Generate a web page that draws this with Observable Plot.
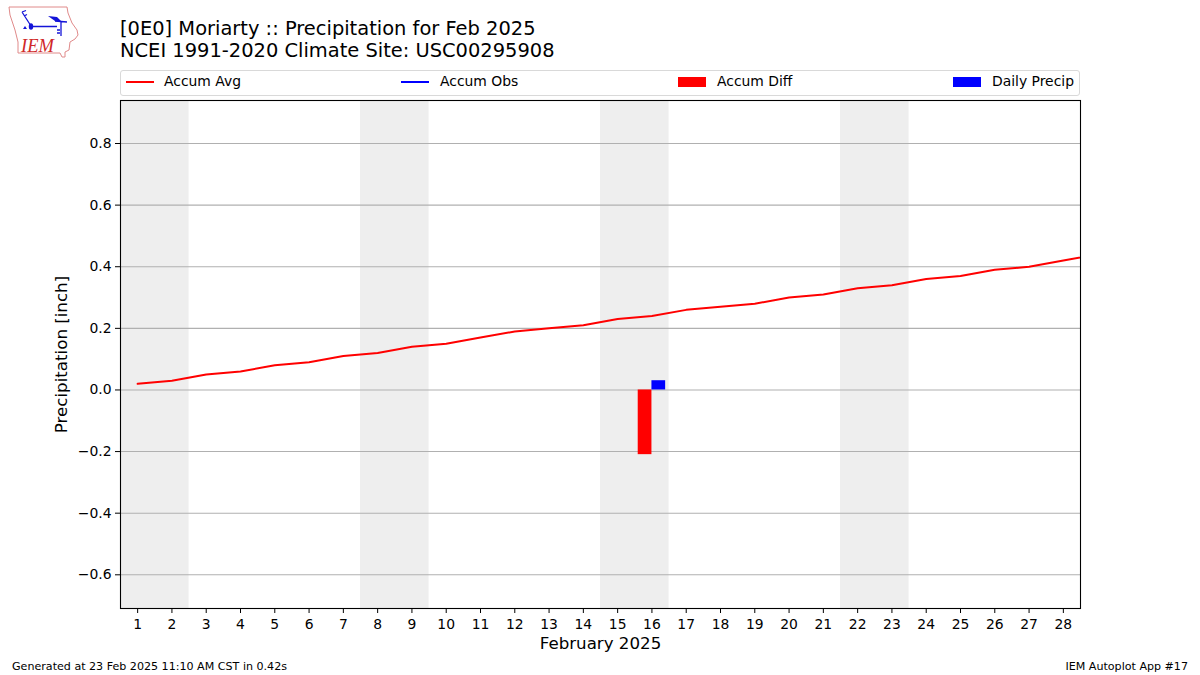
<!DOCTYPE html>
<html>
<head>
<meta charset="utf-8">
<script src="https://cdn.jsdelivr.net/npm/d3@7"></script>
<script src="https://cdn.jsdelivr.net/npm/@observablehq/plot@0.6"></script>
<style>
html,body{margin:0;padding:0;background:#fff;}
body{width:1200px;height:675px;position:relative;overflow:hidden;font-family:"DejaVu Sans",sans-serif;color:#000;}
#title{position:absolute;left:120px;top:18px;font-size:19.44px;line-height:22px;white-space:nowrap;}
#legend{position:absolute;left:120px;top:70px;width:958px;height:24px;border:1px solid #d9d9d9;border-radius:3px;font-size:13.9px;}
#legend .it{position:absolute;top:0;height:24px;line-height:21px;white-space:nowrap;}
#legend .sw{position:absolute;}
#chart{position:absolute;left:0;top:96px;}
#chart svg{display:block;}
#foot-l{position:absolute;left:12px;top:660px;font-size:11.1px;white-space:nowrap;}
#foot-r{position:absolute;right:12px;top:660px;font-size:11.1px;white-space:nowrap;}
#logo{position:absolute;left:5px;top:2px;}
</style>
</head>
<body>
<svg id="logo" width="80" height="60" viewBox="5 2 80 60">
  <path d="M9 7 L67 7 L68 13 L72 23 L77 30 L78 35 L75 39 L70 42 L69 50 L65 52 L65 57 L62 57 L60 53 L18 53 L18 42 L15 30 L10 15 Z" fill="none" stroke="#e08a8a" stroke-width="1"/>
  <path d="M31 26.5 H57 M55 21 L67 22 M61 22 V36 M22 12 L31 26 M22 12 L26 10.5 M24 16 L27 14.5 M57 30 H60 M57 33 H60" fill="none" stroke="#1414d8" stroke-width="1.3"/>
  <ellipse cx="31" cy="26.5" rx="2.2" ry="3.2" fill="#1414d8"/>
  <path d="M48 16 L57 17 L62 22 L55 21 Z" fill="#1414d8"/>
  <path d="M25 26 L27 29 L23 29 Z" fill="#1414d8"/>
  <text x="21" y="52" font-family="Liberation Serif" font-style="italic" font-size="18.5" fill="#d02828">IEM</text>
</svg>
<div id="title">[0E0] Moriarty :: Precipitation for Feb 2025<br>NCEI 1991-2020 Climate Site: USC00295908</div>
<div id="legend"></div>
<div id="chart"></div>
<div id="foot-l">Generated at 23 Feb 2025 11:10 AM CST in 0.42s</div>
<div id="foot-r">IEM Autoplot App #17</div>
<script>
const days = [1,2,3,4,5,6,7,8,9,10,11,12,13,14,15,16,17,18,19,20,21,22,23,24,25,26,27,28,29];
const accumAvg = [0.02,0.03,0.05,0.06,0.08,0.09,0.11,0.12,0.14,0.15,0.17,0.19,0.20,0.21,0.23,0.24,0.26,0.27,0.28,0.30,0.31,0.33,0.34,0.36,0.37,0.39,0.40,0.42,0.44];
const weekendStart = [0.5,7.5,14.5,21.5];
const weekendEnd = [2.5,9.5,16.5,23.5];
const diffDays = [16];
const accumDiff = [-0.21];
const precipDays = [16];
const dailyPrecip = [0.03];
const xTicks = days.slice(0,28);
const yTicks = [-0.6,-0.4,-0.2,0,0.2,0.4,0.6,0.8];
const legendItems = [
  {label:"Accum Avg", color:"#ff0000", kind:"line", sx:5, tx:43},
  {label:"Accum Obs", color:"#0000ff", kind:"line", sx:280, tx:319},
  {label:"Accum Diff", color:"#ff0000", kind:"bar", sx:557, tx:596},
  {label:"Daily Precip", color:"#0000ff", kind:"bar", sx:832, tx:871}
];

const barWidth = 0.4;
const line = days.map((d,i)=>({d, v:accumAvg[i]}));
const bands = weekendStart.map((s,i)=>({s, e:weekendEnd[i]}));
const diffs = diffDays.map((d,i)=>({x1:d-barWidth, x2:d, v:accumDiff[i]}));
const precs = precipDays.map((d,i)=>({x1:d, x2:d+barWidth, v:dailyPrecip[i]}));

const plot = Plot.plot({
  width:1200, height:560,
  marginLeft:120, marginRight:120, marginTop:4, marginBottom:48,
  style:{fontFamily:'"DejaVu Sans",sans-serif', fontSize:"13.9px", background:"transparent", color:"#000"},
  x:{domain:[0.5,28.5]},
  y:{domain:[-0.7094,0.9396]},
  marks:[
    Plot.rectY(bands,{x1:"s",x2:"e",y1:-0.7094,y2:0.9396,fill:"#eeeeee"}),
    Plot.ruleY(yTicks,{stroke:"#b0b0b0",strokeWidth:1.1}),
    Plot.rectY(diffs,{x1:"x1",x2:"x2",y1:0,y2:"v",fill:"#ff0000"}),
    Plot.rectY(precs,{x1:"x1",x2:"x2",y1:0,y2:"v",fill:"#0000ff"}),
    Plot.line(line,{x:"d",y:"v",stroke:"#ff0000",strokeWidth:2,clip:true}),
    Plot.frame({stroke:"#000",strokeWidth:1.1}),
    Plot.axisX({ticks:xTicks,tickFormat:d=>String(d),tickSize:5,tickPadding:5.5,label:"February 2025",labelAnchor:"center",labelArrow:"none",labelOffset:40,fontSize:13.9,stroke:"#000"}),
    Plot.axisY({ticks:yTicks,tickFormat:d3.format(".1f"),tickSize:5,tickPadding:4,label:"Precipitation [inch]",labelAnchor:"center",labelArrow:"none",labelOffset:65,fontSize:13.9,stroke:"#000"})
  ]
});
document.getElementById("chart").appendChild(plot);

// enlarge axis titles to match the reference
plot.querySelectorAll('[aria-label="x-axis label"] text, [aria-label="y-axis label"] text').forEach(t=>t.setAttribute("font-size","16.67"));

const lg = document.getElementById("legend");
legendItems.forEach(it=>{
  const sw = document.createElement("div");
  sw.className="sw";
  sw.style.left = it.sx+"px";
  sw.style.width = "28px";
  sw.style.background = it.color;
  if(it.kind==="line"){ sw.style.top="10px"; sw.style.height="2px"; }
  else { sw.style.top="6px"; sw.style.height="10px"; }
  lg.appendChild(sw);
  const t = document.createElement("div");
  t.className="it"; t.style.left=it.tx+"px"; t.textContent=it.label;
  lg.appendChild(t);
});
</script>
</body>
</html>
